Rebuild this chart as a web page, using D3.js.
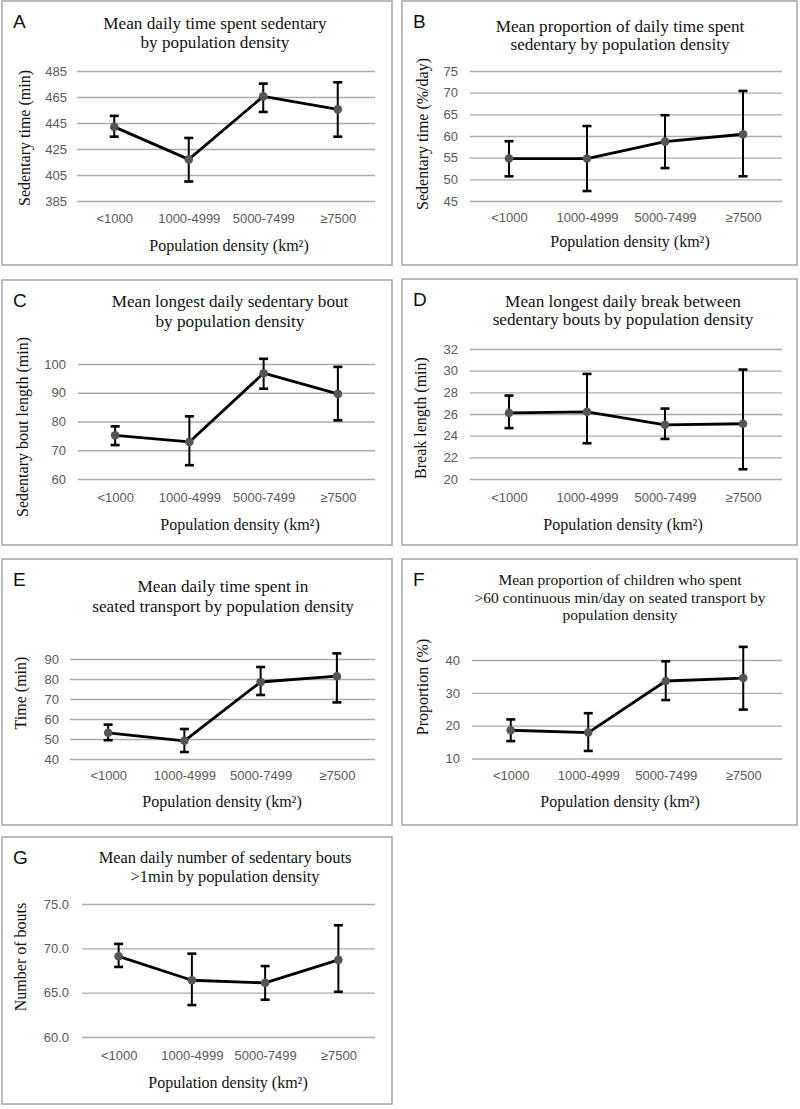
<!DOCTYPE html>
<html>
<head>
<meta charset="utf-8">
<script src="https://cdn.jsdelivr.net/npm/d3@7.9.0/dist/d3.min.js"></script>
<style>
  body { margin: 0; background: #fff; }
  svg { display: block; }
</style>
</head>
<body>
<div id="chart"></div>
<script>
// Categories shared by every panel
const categories = ['<1000', '1000-4999', '5000-7499', '≥7500'];

// A: sedentary time (min)
const aMean = [442, 417, 465.5, 455.5];
const aLow = [434.5, 400, 453.5, 434.5];
const aHigh = [450.5, 433.5, 475.3, 476.3];
const aTicks = [385, 405, 425, 445, 465, 485];

// B: sedentary time (%/day)
const bMean = [54.8, 54.8, 58.7, 60.4];
const bLow = [50.7, 47.3, 52.6, 50.7];
const bHigh = [58.8, 62.3, 64.8, 70.4];
const bTicks = [45, 50, 55, 60, 65, 70, 75];

// C: longest sedentary bout (min)
const cMean = [75.2, 72.9, 96.8, 89.6];
const cLow = [71.8, 64.8, 91.4, 80.4];
const cHigh = [78.3, 81.8, 101.8, 99.0];
const cTicks = [60, 70, 80, 90, 100];

// D: longest break (min)
const dMean = [26.1, 26.2, 25.0, 25.1];
const dLow = [24.7, 23.3, 23.7, 20.9];
const dHigh = [27.7, 29.7, 26.5, 30.1];
const dTicks = [20, 22, 24, 26, 28, 30, 32];

// E: seated transport time (min)
const eMean = [53.1, 49.1, 78.5, 81.4];
const eLow = [49.4, 43.5, 72.0, 68.3];
const eHigh = [57.2, 55.0, 86.0, 92.8];
const eTicks = [40, 50, 60, 70, 80, 90];

// F: proportion >60 min seated transport (%)
const fMean = [18.6, 17.9, 33.6, 34.5];
const fLow = [15.3, 12.3, 27.8, 24.9];
const fHigh = [21.9, 23.8, 39.6, 44.0];
const fTicks = [10, 20, 30, 40];

// G: number of sedentary bouts
const gMean = [69.1, 66.4, 66.1, 68.7];
const gLow = [67.9, 63.6, 64.2, 65.1];
const gHigh = [70.5, 69.4, 68.0, 72.6];
const gTicks = [60, 65, 70, 75];

const xTitle = 'Population density  (km²)';

const panels = [
  {
    letter: 'A', mean: aMean, low: aLow, high: aHigh, ticks: aTicks, fmt: d3.format('d'),
    title: ['Mean daily time spent sedentary', 'by population density'],
    yTitle: 'Sedentary time (min)',
    box: [2, 1, 390, 264], plot: { left: 75, right: 373, top: 70, bottom: 200 },
    titleX: 213, titleY: [28, 47], yTickX: 65, xTickY: 222, xTitleX: 227, xTitleY: 250, yTitleX: 22, yTitleY: 137,
  },
  {
    letter: 'B', mean: bMean, low: bLow, high: bHigh, ticks: bTicks, fmt: d3.format('d'),
    title: ['Mean proportion of daily time spent', 'sedentary by population density'],
    yTitle: 'Sedentary  time (%/day)',
    box: [402, 1, 395, 264], plot: { left: 68, right: 380, top: 70, bottom: 200 },
    titleX: 218, titleY: [31, 49], yTickX: 56, xTickY: 221, xTitleX: 228, xTitleY: 246, yTitleX: 20, yTitleY: 133,
  },
  {
    letter: 'C', mean: cMean, low: cLow, high: cHigh, ticks: cTicks, fmt: d3.format('d'),
    title: ['Mean longest daily sedentary bout', 'by population density'],
    yTitle: 'Sedentary bout length (min)',
    box: [2, 280, 390, 265], plot: { left: 76, right: 373, top: 84, bottom: 199 },
    titleX: 228, titleY: [27, 47], yTickX: 64, xTickY: 222, xTitleX: 238, xTitleY: 250, yTitleX: 20, yTitleY: 147,
  },
  {
    letter: 'D', mean: dMean, low: dLow, high: dHigh, ticks: dTicks, fmt: d3.format('d'),
    title: ['Mean longest daily break between', 'sedentary bouts by population density'],
    yTitle: 'Break length (min)',
    box: [402, 279, 395, 266], plot: { left: 68, right: 380, top: 70, bottom: 200 },
    titleX: 221, titleY: [28, 46], yTickX: 56, xTickY: 223, xTitleX: 221, xTitleY: 251, yTitleX: 18, yTitleY: 139,
  },
  {
    letter: 'E', mean: eMean, low: eLow, high: eHigh, ticks: eTicks, fmt: d3.format('d'),
    title: ['Mean  daily time spent in', 'seated transport by population density'],
    yTitle: 'Time (min)',
    box: [2, 559, 390, 266], plot: { left: 68, right: 373, top: 100, bottom: 200 },
    titleX: 221, titleY: [33, 53], yTickX: 57, xTickY: 221, xTitleX: 220, xTitleY: 248, yTitleX: 18, yTitleY: 134,
  },
  {
    letter: 'F', mean: fMean, low: fLow, high: fHigh, ticks: fTicks, fmt: d3.format('d'),
    title: ['Mean proportion of children who spent', '>60 continuous min/day  on seated transport by', 'population density'],
    yTitle: 'Proportion  (%)',
    box: [402, 559, 395, 266], plot: { left: 70, right: 380, top: 101, bottom: 199.5 },
    titleX: 218, titleY: [26, 44, 61], titleSize: 15.5,
    yTickX: 58, xTickY: 221, xTitleX: 218, xTitleY: 248, yTitleX: 20, yTitleY: 128,
  },
  {
    letter: 'G', mean: gMean, low: gLow, high: gHigh, ticks: gTicks, fmt: d3.format('.1f'),
    title: ['Mean  daily number of sedentary  bouts', '>1min by population density'],
    yTitle: 'Number of bouts',
    box: [2, 837, 390, 267], plot: { left: 80, right: 373, top: 67, bottom: 200 },
    titleX: 223, titleY: [26, 45], titleSize: 16.4,
    yTickX: 67, xTickY: 223, xTitleX: 226, xTitleY: 251, yTitleX: 18, yTitleY: 120,
  },
];

const width = 800;
const height = 1109;
const serif = '"Liberation Serif", "Times New Roman", serif';
const sans = '"Liberation Sans", Arial, sans-serif';

const svg = d3
  .select('#chart')
  .append('svg')
  .attr('width', width)
  .attr('height', height);

function drawPanel(p) {
  const g = svg
    .append('g')
    .attr('transform', `translate(${p.box[0]},${p.box[1]})`);

  // Panel frame
  g.append('rect')
    .attr('x', 0)
    .attr('y', 0)
    .attr('width', p.box[2])
    .attr('height', p.box[3])
    .attr('fill', '#fff')
    .attr('stroke', '#a6a6a6')
    .attr('stroke-width', 1.5);

  const xScale = d3
    .scalePoint()
    .domain(categories)
    .range([p.plot.left, p.plot.right])
    .padding(0.5);

  const yScale = d3
    .scaleLinear()
    .domain(d3.extent(p.ticks))
    .range([p.plot.bottom, p.plot.top]);

  // Gridlines plus y tick labels
  const yAxis = g
    .append('g')
    .attr('transform', `translate(${p.plot.left},0)`)
    .call(
      d3
        .axisLeft(yScale)
        .tickValues(p.ticks)
        .tickFormat(p.fmt)
        .tickSize(-(p.plot.right - p.plot.left))
        .tickPadding(p.plot.left - p.yTickX),
    );
  yAxis.select('.domain').remove();
  yAxis.selectAll('.tick line').attr('stroke', '#acacac').attr('stroke-width', 1.4);
  yAxis
    .selectAll('.tick text')
    .attr('fill', '#595959')
    .style('font-family', sans)
    .style('font-size', '13px');

  // Category labels
  const xAxis = g
    .append('g')
    .attr('transform', `translate(0,${p.plot.bottom})`)
    .call(d3.axisBottom(xScale).tickSize(0));
  xAxis.select('.domain').remove();
  xAxis
    .selectAll('.tick text')
    .attr('y', p.xTickY - p.plot.bottom)
    .attr('dy', null)
    .attr('fill', '#595959')
    .style('font-family', sans)
    .style('font-size', '13px');

  const pts = categories.map((c, i) => ({
    cat: c,
    mean: p.mean[i],
    low: p.low[i],
    high: p.high[i],
  }));

  // Connecting line
  g.append('path')
    .datum(pts)
    .attr('fill', 'none')
    .attr('stroke', '#000')
    .attr('stroke-width', 2.8)
    .attr('stroke-linejoin', 'round')
    .attr('d', d3.line().x((d) => xScale(d.cat)).y((d) => yScale(d.mean)));

  // Error bars
  const eb = g.append('g').attr('stroke', '#000').attr('stroke-width', 2);
  eb.selectAll('line.stem')
    .data(pts)
    .enter()
    .append('line')
    .attr('class', 'stem')
    .attr('x1', (d) => xScale(d.cat))
    .attr('x2', (d) => xScale(d.cat))
    .attr('y1', (d) => yScale(d.low))
    .attr('y2', (d) => yScale(d.high));
  ['low', 'high'].forEach((k) => {
    eb.selectAll(`line.cap-${k}`)
      .data(pts)
      .enter()
      .append('line')
      .attr('class', `cap-${k}`)
      .attr('stroke-width', 2.6)
      .attr('x1', (d) => xScale(d.cat) - 4.5)
      .attr('x2', (d) => xScale(d.cat) + 4.5)
      .attr('y1', (d) => yScale(d[k]))
      .attr('y2', (d) => yScale(d[k]));
  });

  // Markers
  g.selectAll('circle.pt')
    .data(pts)
    .enter()
    .append('circle')
    .attr('class', 'pt')
    .attr('cx', (d) => xScale(d.cat))
    .attr('cy', (d) => yScale(d.mean))
    .attr('r', 4.3)
    .attr('fill', '#555');

  // Panel letter
  g.append('text')
    .attr('x', 11)
    .attr('y', 27)
    .style('font-family', sans)
    .style('font-size', '19px')
    .attr('fill', '#111')
    .text(p.letter);

  // Title
  const t = g
    .append('text')
    .attr('text-anchor', 'middle')
    .style('font-family', serif)
    .style('font-size', `${p.titleSize || 17.2}px`)
    .attr('fill', '#111');
  p.title.forEach((line, i) => {
    t.append('tspan').attr('x', p.titleX).attr('y', p.titleY[i]).text(line);
  });

  // X axis title
  g.append('text')
    .attr('x', p.xTitleX)
    .attr('y', p.xTitleY)
    .attr('text-anchor', 'middle')
    .style('font-family', serif)
    .style('font-size', '16px')
    .attr('fill', '#111')
    .text(xTitle);

  // Y axis title
  g.append('text')
    .attr('transform', `translate(${p.yTitleX},${p.yTitleY}) rotate(-90)`)
    .attr('text-anchor', 'middle')
    .attr('dominant-baseline', 'central')
    .style('font-family', serif)
    .style('font-size', '16px')
    .attr('fill', '#111')
    .text(p.yTitle);
}

panels.forEach(drawPanel);
</script>
</body>
</html>
